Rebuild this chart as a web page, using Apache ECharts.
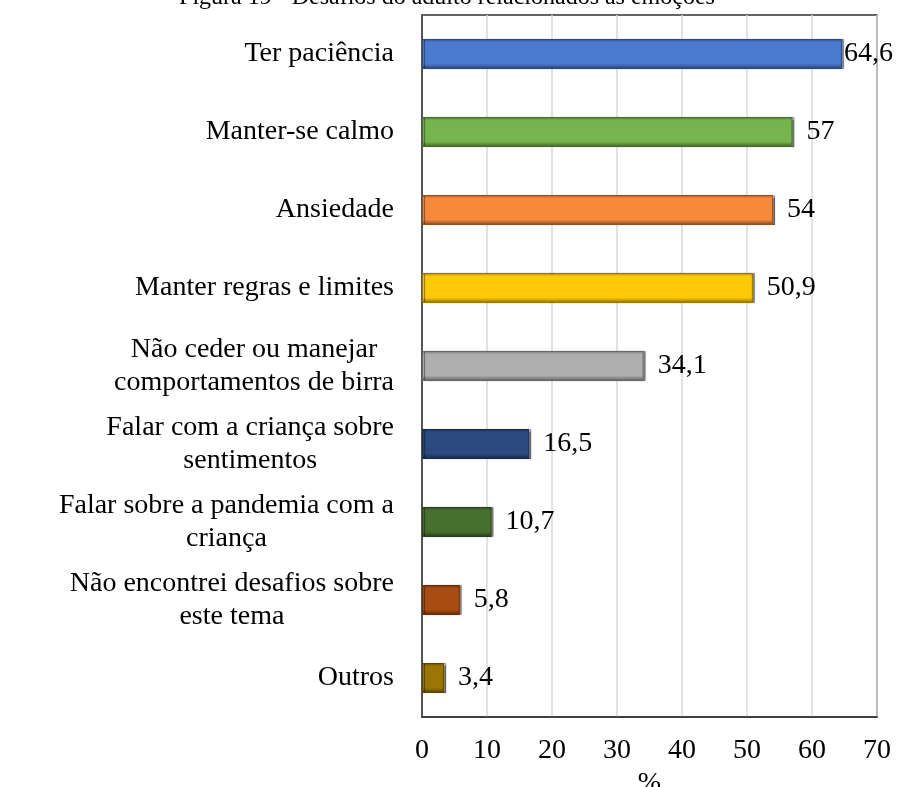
<!DOCTYPE html>
<html>
<head>
<meta charset="utf-8">
<script src="https://cdn.jsdelivr.net/npm/echarts@6/dist/echarts.min.js"></script>
<style>
  html, body { margin: 0; padding: 0; background: #fff; }
  #main { width: 899px; height: 787px; }
</style>
</head>
<body>
<div id="main"></div>
<script>
  // dados
  var categorias = [
    ['Ter paciência'],
    ['Manter-se calmo'],
    ['Ansiedade'],
    ['Manter regras e limites'],
    ['Não ceder ou manejar', 'comportamentos de birra'],
    ['Falar com a criança sobre', 'sentimentos'],
    ['Falar sobre a pandemia com a', 'criança'],
    ['Não encontrei desafios sobre', 'este tema'],
    ['Outros']
  ];
  var valores = [64.6, 57, 54, 50.9, 34.1, 16.5, 10.7, 5.8, 3.4];
  var cores = ['#4a7bd0', '#76b44d', '#f7893b', '#ffc90a', '#afafaf', '#2a4a80', '#47702f', '#a84d12', '#9c7604'];
  var ticks = [0, 10, 20, 30, 40, 50, 60, 70];

  var fonte = '"Liberation Serif", "DejaVu Serif", serif';

  function escurecer(hex, f) {
    var n = parseInt(hex.slice(1), 16);
    var r = Math.round(((n >> 16) & 255) * f);
    var g = Math.round(((n >> 8) & 255) * f);
    var b = Math.round((n & 255) * f);
    return 'rgb(' + r + ',' + g + ',' + b + ')';
  }

  var dados = valores.map(function (v, i) {
    var c = cores[i];
    return {
      value: v,
      itemStyle: {
        color: {
          type: 'linear', x: 0, y: 0, x2: 0, y2: 1,
          colorStops: [
            { offset: 0, color: escurecer(c, 0.75) },
            { offset: 0.12, color: c },
            { offset: 0.82, color: c },
            { offset: 1, color: escurecer(c, 0.55) }
          ]
        },
        borderColor: escurecer(c, 0.6),
        borderWidth: 1,
        shadowColor: 'rgba(0,0,0,0.45)',
        shadowOffsetX: 2,
        shadowBlur: 1
      },
      label: { distance: v > 60 ? 2 : 14 }
    };
  });

  var chart = echarts.init(document.getElementById('main'));
  chart.setOption({
    animation: false,
    backgroundColor: '#fff',
    title: {
      text: 'Figura 19 - Desafios do adulto relacionados às emoções',
      left: 442,
      textAlign: 'center',
      top: -19,
      textStyle: { fontFamily: fonte, fontSize: 24, fontWeight: 'normal', color: '#000' }
    },
    grid: {
      left: 422, right: 22, top: 15, bottom: 70,
      outerBoundsMode: 'none',
      show: true, borderColor: '#333', borderWidth: 1.5
    },
    xAxis: {
      type: 'value',
      min: ticks[0],
      max: ticks[ticks.length - 1],
      interval: 10,
      name: '%',
      nameLocation: 'middle',
      nameGap: 46,
      nameTextStyle: { fontFamily: fonte, fontSize: 28, color: '#000' },
      axisLine: { show: true, lineStyle: { color: '#333', width: 1.5 } },
      axisTick: { show: false },
      axisLabel: { margin: 20, fontFamily: fonte, fontSize: 28, color: '#000' },
      splitLine: { show: true, lineStyle: { color: '#d9d9d9', width: 1.5 } }
    },
    yAxis: {
      type: 'category',
      inverse: true,
      data: categorias.map(function (l) { return l.join('\n'); }),
      axisLine: { show: true, lineStyle: { color: '#333', width: 1.5 } },
      axisTick: { show: false },
      axisLabel: {
        margin: 28,
        lineHeight: 33,
        formatter: function (v) {
          return v.split('\n').map(function (s) { return '{c|' + s + '}'; }).join('\n');
        },
        rich: {
          c: { align: 'center', fontFamily: fonte, fontSize: 28, color: '#000', lineHeight: 33 }
        }
      }
    },
    series: [{
      type: 'bar',
      data: dados,
      barWidth: 30,
      label: {
        show: true,
        position: 'right',
        fontFamily: fonte,
        fontSize: 28,
        color: '#000',
        formatter: function (p) { return String(p.value).replace('.', ','); }
      }
    }]
  });
</script>
</body>
</html>
